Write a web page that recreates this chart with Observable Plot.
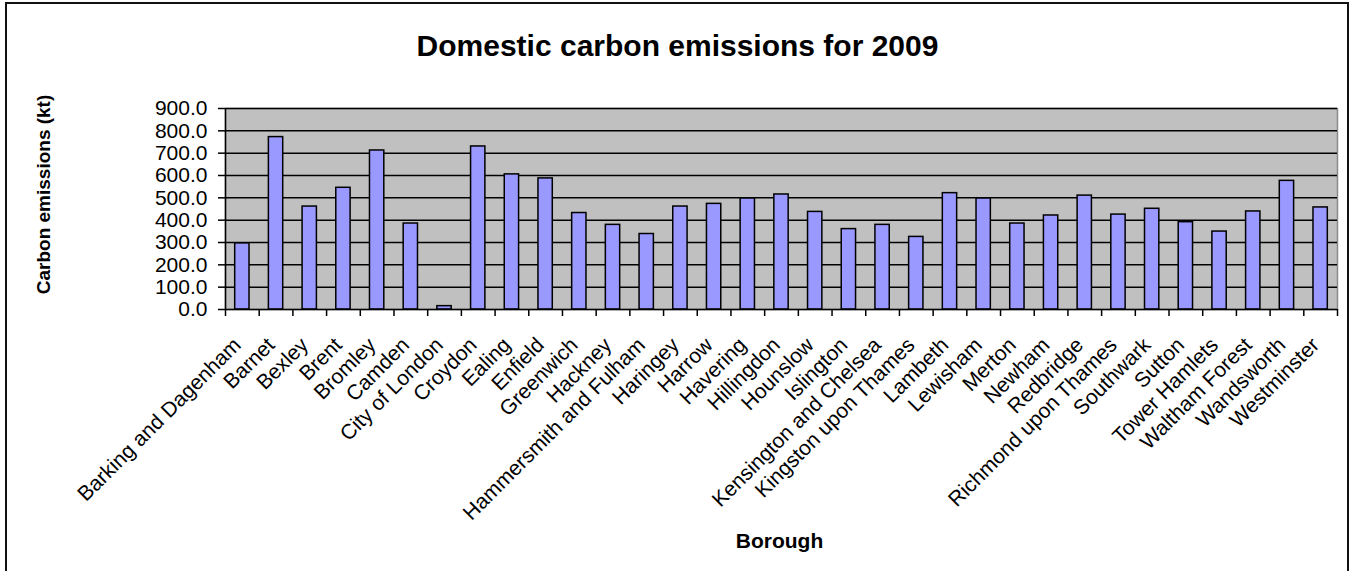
<!DOCTYPE html>
<html><head><meta charset="utf-8">
<script src="https://cdn.jsdelivr.net/npm/d3@7"></script>
<script src="https://cdn.jsdelivr.net/npm/@observablehq/plot@0.6"></script>
<style>
body{margin:0;background:#fff;overflow:hidden;}
#wrap{position:relative;width:1353px;height:571px;}
#border{position:absolute;left:5px;top:2px;width:1344px;height:600px;border:2px solid #111;box-sizing:border-box;pointer-events:none}
</style></head><body><div id="wrap"><div id="border"></div></div>
<script>
const boroughs = ["Barking and Dagenham","Barnet","Bexley","Brent","Bromley","Camden","City of London","Croydon","Ealing","Enfield","Greenwich","Hackney","Hammersmith and Fulham","Haringey","Harrow","Havering","Hillingdon","Hounslow","Islington","Kensington and Chelsea","Kingston upon Thames","Lambeth","Lewisham","Merton","Newham","Redbridge","Richmond upon Thames","Southwark","Sutton","Tower Hamlets","Waltham Forest","Wandsworth","Westminster"];
const emissions = [296,772,461,545,712,385,15,730,605,587,432,379,338,461,473,497,515,437,360,379,325,521,497,385,421,510,425,451,391,349,439,576,457];
const yTicks = [0,100,200,300,400,500,600,700,800,900];
const title = "Domestic carbon emissions for 2009";
const yLabel = "Carbon emissions (kt)";
const xLabel = "Borough";

const data = boroughs.map((b,i)=>({borough:b, value:emissions[i]}));
const W=1353, H=571, ml=225, mr=16, mt=108, mb=262;
const step=(W-ml-mr)/boroughs.length;
const font = "'Liberation Sans', Arial, sans-serif";

const chart = Plot.plot({
  width:W, height:H, marginLeft:ml, marginRight:mr, marginTop:mt, marginBottom:mb,
  style:{fontFamily:font, background:"transparent", color:"#000"},
  x:{domain:boroughs, paddingInner:0.575, paddingOuter:0.2875, round:false, axis:null, label:null},
  y:{domain:[0,900], axis:null, label:null},
  marks:[
    Plot.frame({fill:"#C0C0C0", stroke:"#8a8a8a", strokeWidth:1.5}),
    Plot.gridY(yTicks.slice(1), {stroke:"#000", strokeOpacity:1, strokeWidth:1.5}),
    Plot.barY(data, {x:"borough", y:"value", fill:"#9999FF", stroke:"#000", strokeWidth:1.5}),
    Plot.ruleY([0], {stroke:"#000", strokeWidth:1.5}),
    Plot.ruleX(boroughs.slice(0,1), {x:d=>d, dx:-step/2, stroke:"#000", strokeWidth:1.5}),
    Plot.axisY(yTicks, {label:null, tickSize:7, tickPadding:11, tickFormat:d3.format(".1f"), fontSize:21, stroke:"#000", strokeWidth:1.5}),
    Plot.ruleX(boroughs, {x:d=>d, dx:-step/2, insetTop:H-mt-mb, insetBottom:-7, stroke:"#000", strokeWidth:1.5}),
    Plot.ruleX(boroughs.slice(-1), {x:d=>d, dx:step/2, insetTop:H-mt-mb, insetBottom:-7, stroke:"#000", strokeWidth:1.5}),
    Plot.text(boroughs, {x:d=>d, frameAnchor:"bottom", text:d=>d, rotate:-45, textAnchor:"end", lineAnchor:"middle", dx:-5, dy:32, fontSize:21, fill:"#000"}),
    Plot.text([title], {frameAnchor:"top-left", dx:677-ml, dy:55-mt, text:d=>d, fontSize:30, fontWeight:"bold", lineAnchor:"bottom", textAnchor:"middle", fill:"#000"}),
    Plot.text([yLabel], {frameAnchor:"top-left", dx:49-ml, dy:194-mt, text:d=>d, rotate:-90, fontSize:19, fontWeight:"bold", lineAnchor:"bottom", textAnchor:"middle", fill:"#000"}),
    Plot.text([xLabel], {frameAnchor:"bottom", dx:-2, dy:238, text:d=>d, fontSize:21, fontWeight:"bold", lineAnchor:"bottom", textAnchor:"middle", fill:"#000"})
  ]
});
document.getElementById("wrap").appendChild(chart);
chart.style.position="absolute"; chart.style.left="0"; chart.style.top="0";
</script></body></html>
